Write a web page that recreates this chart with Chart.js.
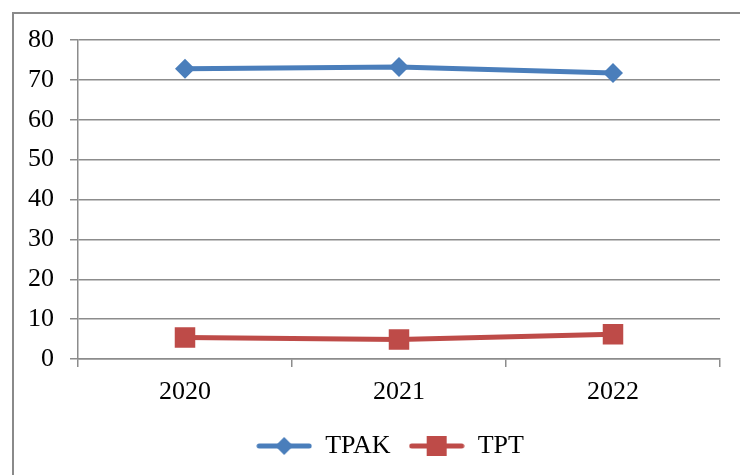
<!DOCTYPE html>
<html>
<head>
<meta charset="utf-8">
<script src="https://cdn.jsdelivr.net/npm/chart.js@4"></script>
<style>
  body { margin: 0; background: #fff; overflow: hidden; }
  #frame { position: absolute; left: 12px; top: 12px; width: 800px; height: 520px; border: 2px solid #8a8a8a; }
  #wrap { position: absolute; left: 0; top: 0; width: 740px; height: 475px; }
</style>
</head>
<body>
<div id="frame"></div>
<div id="wrap"><canvas id="lineChart" width="740" height="475"></canvas></div>
<script>
const years = ['2020', '2021', '2022'];
const tpak = [72.8, 73.2, 71.7];
const tpt = [5.4, 4.9, 6.2];
const yTicks = [0, 10, 20, 30, 40, 50, 60, 70, 80];

const blue = '#4A7EBB';
const red = '#BE4B48';
const gridColor = '#8c8c8c';
const fontFamily = '"Liberation Serif", "Times New Roman", serif';

// legend icon: short line with the marker in the middle
function legendIcon(color, shape) {
    const c = document.createElement('canvas');
    c.width = 56;
    c.height = 24;
    const g = c.getContext('2d');
    g.strokeStyle = color;
    g.lineWidth = 5;
    g.lineCap = 'round';
    g.beginPath();
    g.moveTo(3, 12);
    g.lineTo(53, 12);
    g.stroke();
    g.fillStyle = color;
    g.beginPath();
    if (shape === 'diamond') {
        g.moveTo(28, 3); g.lineTo(37, 12); g.lineTo(28, 21); g.lineTo(19, 12);
    } else {
        g.rect(18, 2, 20, 20);
    }
    g.closePath();
    g.fill();
    return c;
}

const icons = [legendIcon(blue, 'diamond'), legendIcon(red, 'square')];

// move the legend a little right, like the original
const shiftLegend = {
    id: 'shiftLegend',
    afterLayout: function(chart) {
        chart.legend.left += 30;
        chart.legend.right += 30;
    }
};

const ctx = document.getElementById('lineChart').getContext('2d');
const lineChart = new Chart(ctx, {
    type: 'line',
    data: {
        labels: years,
        datasets: [{
            label: 'TPAK',
            data: tpak,
            borderColor: blue,
            backgroundColor: blue,
            borderWidth: 5,
            pointStyle: 'rectRot',
            pointRadius: 10,
            pointBorderWidth: 0,
            pointBackgroundColor: blue,
            tension: 0
        }, {
            label: 'TPT',
            data: tpt,
            borderColor: red,
            backgroundColor: red,
            borderWidth: 5,
            pointStyle: 'rect',
            pointRadius: 14.5,
            pointBorderWidth: 0,
            pointBackgroundColor: red,
            tension: 0
        }]
    },
    plugins: [shiftLegend],
    options: {
        responsive: false,
        animation: false,
        layout: { padding: { left: 0, right: 20, top: 40, bottom: 6 } },
        plugins: {
            tooltip: { enabled: false },
            legend: {
                position: 'bottom',
                labels: {
                    usePointStyle: true,
                    pointStyleWidth: 56,
                    padding: 18,
                    color: '#000',
                    font: { family: fontFamily, size: 26 },
                    generateLabels: function(chart) {
                        return chart.data.datasets.map(function(ds, i) {
                            return {
                                text: ds.label,
                                pointStyle: icons[i],
                                fillStyle: ds.borderColor,
                                strokeStyle: ds.borderColor,
                                lineWidth: 0,
                                hidden: false,
                                datasetIndex: i,
                                fontColor: '#000'
                            };
                        });
                    }
                }
            }
        },
        scales: {
            x: {
                offset: true,
                afterFit: function(scale) { scale.height = 56; },
                grid: {
                    offset: true,
                    drawOnChartArea: false,
                    drawTicks: true,
                    tickLength: 8,
                    color: gridColor,
                    lineWidth: 1.5
                },
                border: { color: gridColor, width: 1.5 },
                ticks: {
                    color: '#000',
                    padding: 10,
                    font: { family: fontFamily, size: 26 }
                }
            },
            y: {
                min: 0,
                max: 80,
                afterFit: function(scale) { scale.width = 78; },
                afterBuildTicks: function(scale) {
                    scale.ticks = yTicks.map(function(v) { return { value: v }; });
                },
                grid: {
                    color: gridColor,
                    lineWidth: 1.5,
                    tickLength: 8
                },
                border: { color: gridColor, width: 1.5 },
                ticks: {
                    color: '#000',
                    padding: 16,
                    font: { family: fontFamily, size: 26 }
                }
            }
        }
    }
});
</script>
</body>
</html>
